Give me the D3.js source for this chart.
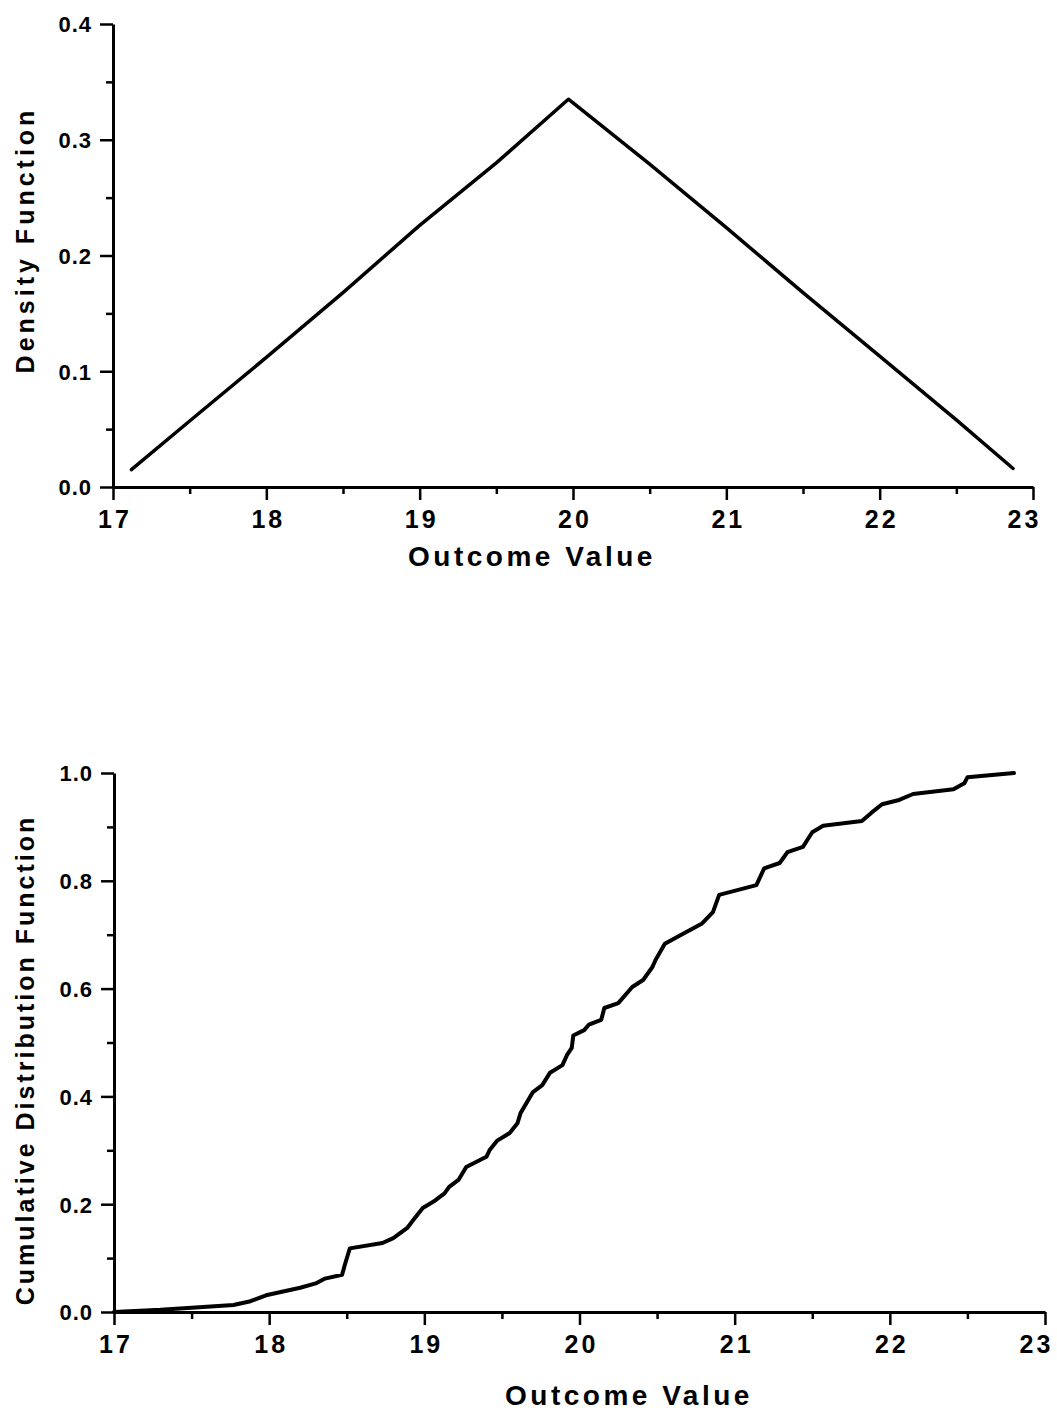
<!DOCTYPE html>
<html>
<head>
<meta charset="utf-8">
<script src="https://cdn.jsdelivr.net/npm/d3@7"></script>
<style>
  html, body { margin: 0; padding: 0; background: #fff; }
  svg { display: block; }
  text { font-family: "Liberation Sans", Arial, Helvetica, sans-serif; font-weight: bold; fill: #000; }
</style>
</head>
<body>
<script>
// ---- Data ----
const xTicks = [17, 18, 19, 20, 21, 22, 23];
const xMinorTicks = [17.5, 18.5, 19.5, 20.5, 21.5, 22.5];
const densityYTicks = [0.0, 0.1, 0.2, 0.3, 0.4];
const densityYMinor = [0.05, 0.15, 0.25, 0.35];
const cdfYTicks = [0.0, 0.2, 0.4, 0.6, 0.8, 1.0];
const cdfYMinor = [0.1, 0.3, 0.5, 0.7, 0.9];

const densityX = [17.12, 17.5, 18.0, 18.5, 19.0, 19.5, 19.97, 20.5, 21.0, 21.5, 22.0, 22.5, 22.87];
const densityY = [0.015, 0.057, 0.112, 0.168, 0.226, 0.280, 0.335, 0.279, 0.224, 0.168, 0.113, 0.058, 0.016];

const cdfX = [17.0, 17.3, 17.5, 17.77, 17.88, 17.98, 18.2, 18.3, 18.36, 18.47, 18.49, 18.52, 18.73, 18.8, 18.89, 18.93, 18.99,
  19.07, 19.13, 19.16, 19.22, 19.27, 19.4, 19.42, 19.47, 19.55, 19.6, 19.62, 19.7, 19.76, 19.81, 19.89, 19.92, 19.95, 19.96,
  20.03, 20.06, 20.14, 20.16, 20.25, 20.34, 20.41, 20.47, 20.49, 20.55, 20.65, 20.79, 20.86, 20.9,
  21.14, 21.19, 21.29, 21.34, 21.44, 21.5, 21.57, 21.82, 21.88, 21.95, 22.06, 22.15, 22.41, 22.48, 22.5, 22.8];
const cdfY = [0.0, 0.004, 0.008, 0.013, 0.02, 0.031, 0.045, 0.053, 0.062, 0.069, 0.09, 0.118, 0.128, 0.137, 0.156, 0.171, 0.193,
  0.207, 0.22, 0.232, 0.245, 0.269, 0.288, 0.3, 0.318, 0.332, 0.35, 0.369, 0.408, 0.421, 0.444, 0.458, 0.477, 0.49, 0.513,
  0.523, 0.533, 0.542, 0.564, 0.573, 0.603, 0.616, 0.64, 0.653, 0.683, 0.699, 0.721, 0.742, 0.774,
  0.792, 0.823, 0.833, 0.853, 0.863, 0.89, 0.902, 0.911, 0.926, 0.942, 0.95, 0.961, 0.97, 0.981, 0.992, 1.0];

const xLabel = "Outcome  Value";
const densityLabel = "Density  Function";
const cdfLabel = "Cumulative  Distribution  Function";

// ---- Drawing ----
const W = 1057, H = 1413;
const svg = d3.select("body").append("svg").attr("width", W).attr("height", H);

function panel(cfg) {
  const x = d3.scaleLinear().domain([17, 23]).range([cfg.left, cfg.right]);
  const y = d3.scaleLinear().domain([0, cfg.yMax]).range([cfg.bottom, cfg.top]);
  const g = svg.append("g");

  // minor ticks
  g.append("g").attr("transform", `translate(0,${cfg.bottom})`)
    .call(d3.axisBottom(x).tickValues(xMinorTicks).tickSize(7).tickFormat(""))
    .call(s => s.select(".domain").remove());
  g.append("g").attr("transform", `translate(${cfg.left},0)`)
    .call(d3.axisLeft(y).tickValues(cfg.yMinor).tickSize(7).tickFormat(""))
    .call(s => s.select(".domain").remove());

  // major x axis
  const gx = g.append("g").attr("transform", `translate(0,${cfg.bottom})`)
    .call(d3.axisBottom(x).tickValues(xTicks).tickSize(13).tickSizeOuter(0).tickFormat(d3.format("d")));
  gx.selectAll("text").attr("y", 41).attr("dy", 0).attr("x", 1.5)
    .style("font-size", "25px").style("letter-spacing", "3px");
  // last label sits slightly left of its tick, as in the original
  gx.selectAll(".tick").filter(d => d === 23).select("text").attr("x", -9);

  // major y axis
  const gy = g.append("g").attr("transform", `translate(${cfg.left},0)`)
    .call(d3.axisLeft(y).tickValues(cfg.yTicks).tickSize(13).tickSizeOuter(0).tickFormat(d3.format(".1f")));
  gy.selectAll("text").attr("x", -21).attr("dy", "0.36em")
    .style("font-size", "22px").style("letter-spacing", "1px");

  g.selectAll(".domain").attr("stroke", "#000").attr("stroke-width", 3);
  g.selectAll(".tick line").attr("stroke", "#000").attr("stroke-width", 2.5);

  // axis titles
  g.append("text")
    .attr("x", cfg.xTitleX).attr("y", cfg.xTitleY)
    .attr("text-anchor", "middle")
    .style("font-size", "28px").style("letter-spacing", "3.5px")
    .text(xLabel);
  g.append("text")
    .attr("transform", `translate(${cfg.yTitleX},${cfg.yTitleY}) rotate(-90)`)
    .attr("text-anchor", "middle")
    .style("font-size", "25px").style("letter-spacing", cfg.yTitleSpacing)
    .text(cfg.yLabel);

  // curve
  const pts = cfg.xs.map((v, i) => [v, cfg.ys[i]]);
  g.append("path")
    .datum(pts)
    .attr("fill", "none")
    .attr("stroke", "#000")
    .attr("stroke-width", cfg.lineWidth)
    .attr("stroke-linejoin", "round")
    .attr("stroke-linecap", "round")
    .attr("d", d3.line().x(d => x(d[0])).y(d => y(d[1])));
}

panel({
  left: 113, right: 1033, top: 24, bottom: 487, yMax: 0.4,
  yTicks: densityYTicks, yMinor: densityYMinor,
  xs: densityX, ys: densityY, lineWidth: 3.5,
  xTitleX: 532, xTitleY: 566, yTitleX: 34, yTitleY: 240,
  yLabel: densityLabel, yTitleSpacing: "4px"
});

panel({
  left: 114, right: 1045, top: 773, bottom: 1312, yMax: 1.0,
  yTicks: cdfYTicks, yMinor: cdfYMinor,
  xs: cdfX, ys: cdfY, lineWidth: 4,
  xTitleX: 629, xTitleY: 1405, yTitleX: 34, yTitleY: 1060,
  yLabel: cdfLabel, yTitleSpacing: "3px"
});
</script>
</body>
</html>
